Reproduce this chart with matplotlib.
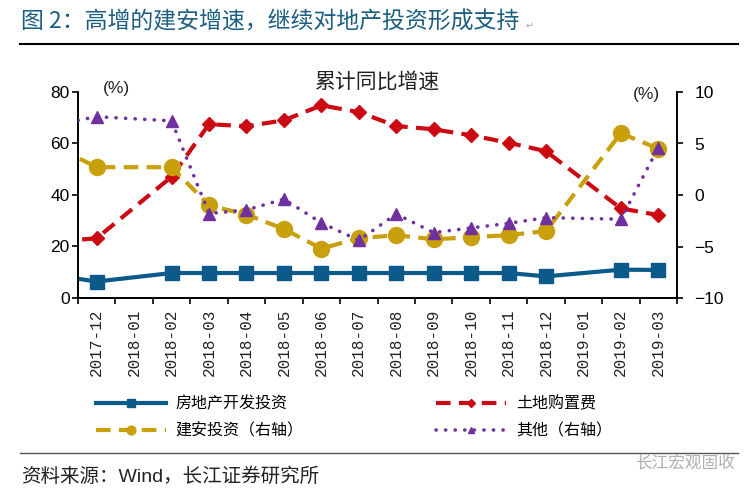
import numpy as np
import matplotlib
matplotlib.use("Agg")
import matplotlib.pyplot as plt
from matplotlib.lines import Line2D

plt.rcParams['font.family'] = ['Liberation Sans', 'Noto Sans CJK SC', 'DejaVu Sans']

# ---- data ----
months = ['2017-12', '2018-01', '2018-02', '2018-03', '2018-04', '2018-05', '2018-06',
          '2018-07', '2018-08', '2018-09', '2018-10', '2018-11', '2018-12',
          '2019-01', '2019-02', '2019-03']
# value of the month before the first label (2017-11), only visible as the line entering from the left
prev_dev, prev_land, prev_build, prev_other = 8.5, 22.0, 4.5, 6.9
nan = np.nan
dev_invest = [6.4, nan, 9.7, 9.7, 9.7, 9.7, 9.7, 9.7, 9.7, 9.7, 9.7, 9.7, 8.4, nan, 11.0, 10.9]
land_cost = [23.2, nan, 47.1, 67.5, 66.7, 69.0, 74.8, 72.2, 66.8, 65.5, 63.2, 60.3, 57.0, nan, 34.8, 32.2]
build_invest = [2.7, nan, 2.7, -1.0, -1.9, -3.3, -5.2, -4.2, -3.9, -4.3, -4.1, -3.9, -3.5, nan, 6.0, 4.5]
other_invest = [7.6, nan, 7.2, -1.8, -1.45, -0.4, -2.7, -4.4, -1.85, -3.65, -3.2, -2.75, -2.2, nan, -2.35, 4.6]

names = ['房地产开发投资', '土地购置费', '建安投资（右轴）', '其他（右轴）']

C_BLUE = '#0b5a8a'
C_RED = '#cc0a14'
C_GOLD = '#c9a00c'
C_PURPLE = '#7030a0'

fig = plt.figure(figsize=(7.55, 5.0), dpi=100)
W, H = 755, 500

def fx(px):
    return px / W

def fy(py):
    return 1 - py / H

ax = fig.add_axes([fx(78), fy(298), fx(677) - fx(78), fy(92) - fy(298)])
ax2 = ax.twinx()


def series(prev, vals):
    x = np.arange(-1, len(vals))
    y = np.array([prev] + list(vals), dtype=float)
    m = ~np.isnan(y)
    return x[m], y[m]


x, y = series(prev_dev, dev_invest)
ax.plot(x, y, color=C_BLUE, lw=3.0, marker='s', ms=10, mec=C_BLUE, mfc=C_BLUE,
        solid_capstyle='butt', zorder=3)
x, y = series(prev_land, land_cost)
ax.plot(x, y, color=C_RED, lw=3.0, dashes=(3.5, 2.0), marker='D', ms=7.5,
        mec=C_RED, mfc=C_RED, zorder=4)
x, y = series(prev_build, build_invest)
ax2.plot(x, y, color=C_GOLD, lw=3.0, dashes=(3.5, 2.0), marker='o', ms=11.5,
         mec=C_GOLD, mfc=C_GOLD, zorder=3)
x, y = series(prev_other, other_invest)
ax2.plot(x, y, color=C_PURPLE, lw=2.6, dashes=(0.05, 2.6), dash_capstyle='round',
         marker='^', ms=9, mec=C_PURPLE, mfc=C_PURPLE, zorder=4)

n = len(months)
ax.set_xlim(-0.5, n - 0.5)
ax.set_ylim(0, 80)
ax2.set_ylim(-10, 10)
ax.set_yticks([0, 20, 40, 60, 80])
ax2.set_yticks([-10, -5, 0, 5, 10])

# category boundaries as major ticks, labels at centres
ax.set_xticks(np.arange(-0.5, n, 1.0))
ax.set_xticklabels([])
ax.set_xticks(np.arange(n), minor=True)
ax.set_xticklabels(months, minor=True, rotation=90, family='Liberation Mono',
                   fontsize=11.5, color='#222222')
ax.tick_params(axis='x', which='major', direction='out', length=4, width=1.2)
ax.tick_params(axis='x', which='minor', length=0, pad=8)
ax.tick_params(axis='y', direction='out', length=4.5, width=1.2, labelsize=12.5, pad=1.5)
ax2.tick_params(axis='y', direction='out', length=4.5, width=1.2, labelsize=12.5, pad=8)

for a in (ax, ax2):
    a.spines['top'].set_visible(False)
    for s in ('left', 'right', 'bottom'):
        a.spines[s].set_linewidth(1.2)
        a.spines[s].set_color('black')
ax.patch.set_visible(False)

# annotations
fig.text(fx(378), fy(82), '累计同比增速', ha='center', va='center', fontsize=15, color='#222222')
fig.text(fx(116), fy(89), '(%)', ha='center', va='center', fontsize=12.5, color='#222222')
fig.text(fx(646), fy(94), '(%)', ha='center', va='center', fontsize=12.5, color='#222222')

# title
fig.text(fx(21), fy(22), '图 2：高增的建安增速，继续对地产投资形成支持', ha='left', va='center',
         fontsize=16.5, color='#1b5e80',
         family=['Noto Sans CJK SC', 'DejaVu Sans'])
fig.text(fx(526), fy(26), '↵', ha='left', va='center', fontsize=7, color='#aaaaaa',
         family='DejaVu Sans')
fig.add_artist(Line2D([fx(20), fx(738)], [fy(44), fy(44)], color='black', lw=1.5))

# legend
h_dev = Line2D([], [], color=C_BLUE, lw=3.0, marker='s', ms=10, mfc=C_BLUE, mec=C_BLUE)
h_land = Line2D([], [], color=C_RED, lw=3.0, dashes=(3.5, 2.0), marker='D', ms=7.5, mfc=C_RED, mec=C_RED)
h_build = Line2D([], [], color=C_GOLD, lw=3.0, dashes=(3.5, 2.0), marker='o', ms=11.5, mfc=C_GOLD, mec=C_GOLD)
h_other = Line2D([], [], color=C_PURPLE, lw=2.6, dashes=(0.05, 2.6), dash_capstyle='round',
                 marker='^', ms=9, mfc=C_PURPLE, mec=C_PURPLE)
legkw = dict(loc='upper left', frameon=False, fontsize=11.5, handlelength=4.4,
             handletextpad=0.6, labelspacing=0.75, borderpad=0, borderaxespad=0,
             markerscale=0.55, numpoints=1)
fig.legend([h_dev, h_build], [names[0], names[2]], bbox_to_anchor=(fx(96), fy(396)), **legkw)
fig.legend([h_land, h_other], [names[1], names[3]], bbox_to_anchor=(fx(436), fy(396)), **legkw)

# bottom
fig.add_artist(Line2D([fx(20), fx(738)], [fy(453), fy(453)], color='#555555', lw=1.0))
fig.text(fx(21), fy(477), '资料来源：Wind，长江证券研究所', ha='left', va='center',
         fontsize=14, color='#222222')
fig.text(fx(735), fy(463), '长江宏观固收', ha='right', va='center', fontsize=12,
         color='#b0b0b0', family=['Noto Sans CJK SC', 'DejaVu Sans'])

fig.savefig('out.png', dpi=100)
